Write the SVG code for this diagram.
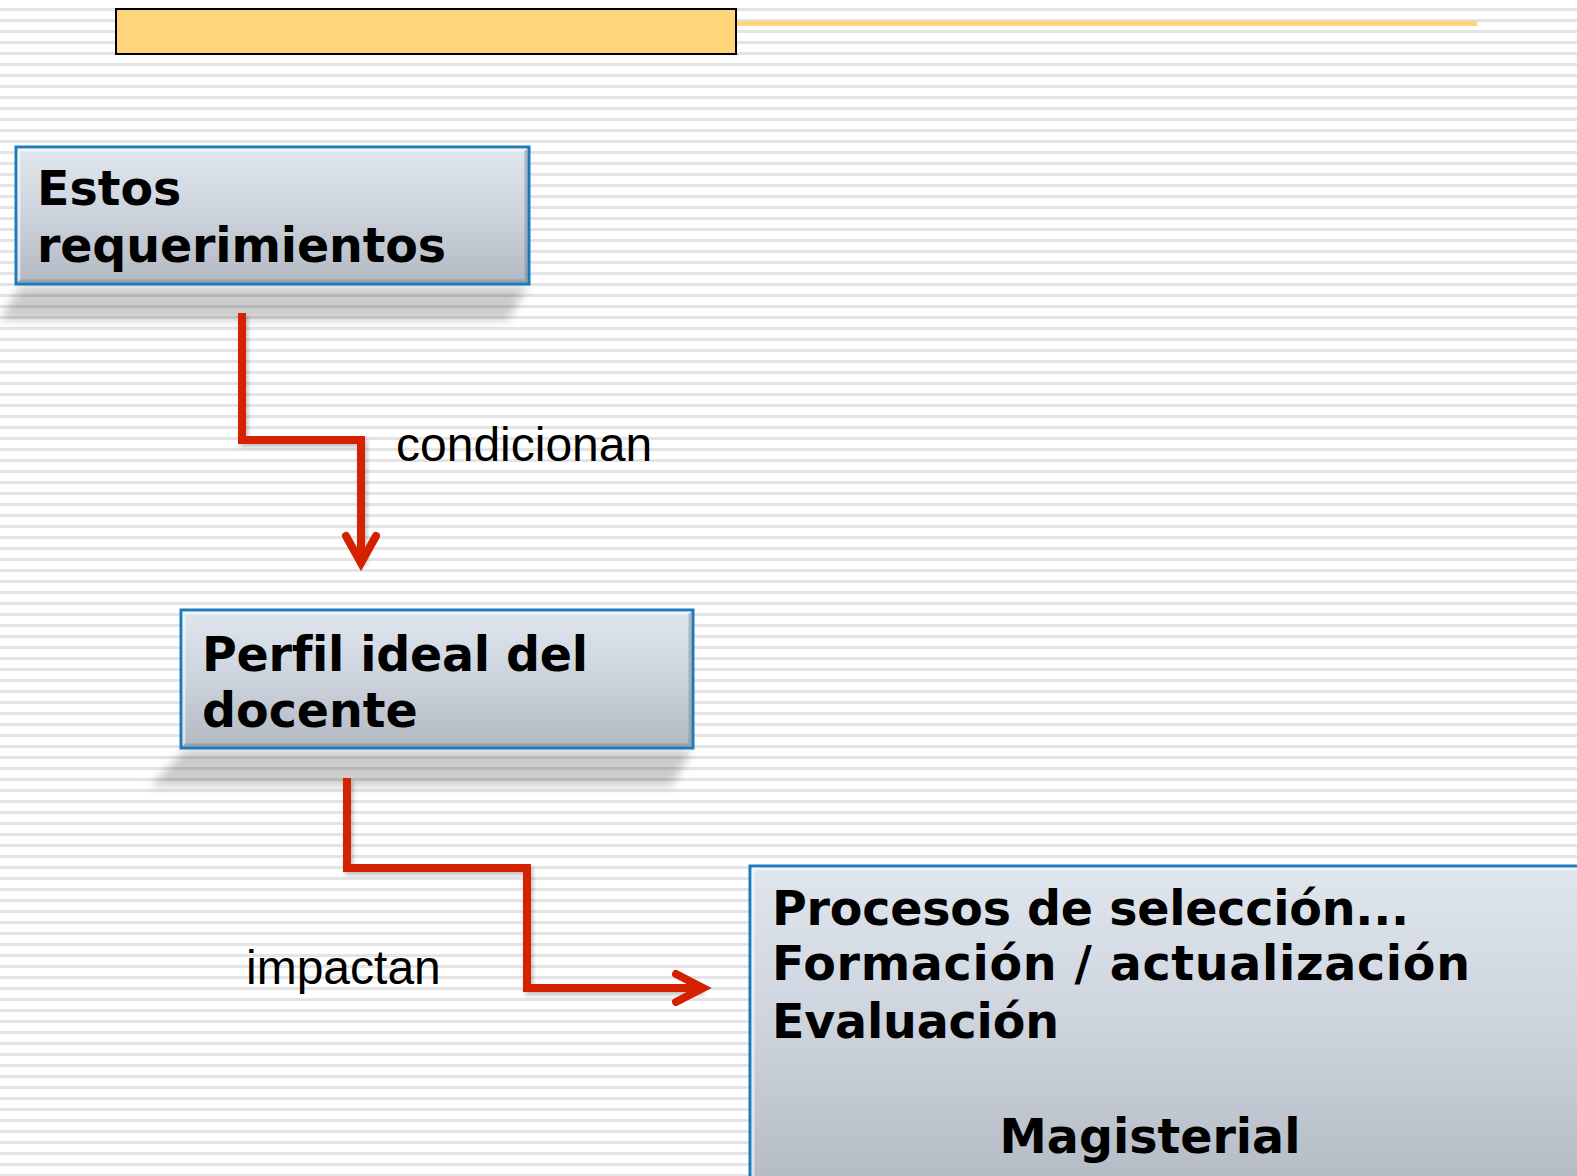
<svg xmlns="http://www.w3.org/2000/svg" width="1577" height="1176" viewBox="0 0 1577 1176">
  <defs>
    <pattern id="stripes" patternUnits="userSpaceOnUse" x="0" y="8" width="20" height="11">
      <rect x="0" y="0" width="20" height="3" fill="#e4e4e4"/>
    </pattern>
    <linearGradient id="boxFill" x1="0" y1="0" x2="0" y2="1">
      <stop offset="0" stop-color="#dfe6ee"/>
      <stop offset="0.5" stop-color="#ccd3dc"/>
      <stop offset="1" stop-color="#b2b9c2"/>
    </linearGradient>
    <filter id="shadowBlur" x="-20%" y="-50%" width="140%" height="200%">
      <feGaussianBlur stdDeviation="5"/>
    </filter>
    <filter id="lineShadow" x="-10%" y="-10%" width="130%" height="130%">
      <feDropShadow dx="2" dy="3" stdDeviation="2" flood-color="#000" flood-opacity="0.25"/>
    </filter>
    <style>
      .box { fill: url(#boxFill); stroke: #1b7bbd; stroke-width: 3; }
      .bevelL { fill: none; stroke: #ffffff; stroke-opacity: 0.55; stroke-width: 3; }
      .bevelD { fill: none; stroke: #6f8296; stroke-opacity: 0.45; stroke-width: 3; }
      .shadow { fill: #000; fill-opacity: 0.2; filter: url(#shadowBlur); }
      .title { font-family: "DejaVu Sans", Verdana, sans-serif; font-weight: bold; font-size: 47.5px; fill: #000; font-variant-ligatures: none; }
      .label { font-family: "Liberation Sans", Arial, sans-serif; font-size: 48px; fill: #000; }
      .conn { fill: none; stroke: #d52000; stroke-width: 8; stroke-linejoin: miter; filter: url(#lineShadow); }
      .head { fill: none; stroke: #d52000; stroke-width: 8; stroke-linecap: round; stroke-linejoin: miter; }
    </style>
  </defs>

  <rect x="0" y="0" width="1577" height="1176" fill="#ffffff"/>
  <rect x="0" y="0" width="1577" height="1176" fill="url(#stripes)"/>

  <g id="header">
    <rect x="736" y="21" width="741" height="5" fill="#ffd57c"/>
    <rect x="116" y="9" width="620" height="45" fill="#ffd57c" stroke="#000" stroke-width="2"/>
  </g>

  <g id="node-requerimientos">
    <polygon class="shadow" points="20,286 528,286 508,320 0,320"/>
    <rect class="box" x="16" y="147" width="513" height="137"/>
    <polyline class="bevelL" points="19,281 19,150 526,150"/>
    <polyline class="bevelD" points="19,281 526,281 526,150"/>
    <text class="title" x="37" y="205">Estos</text>
    <text class="title" x="37" y="262" textLength="409" lengthAdjust="spacing">requerimientos</text>
  </g>

  <g id="node-perfil">
    <polygon class="shadow" points="185,750 692,750 672,786 150,786"/>
    <rect class="box" x="181" y="610" width="512" height="138"/>
    <polyline class="bevelL" points="184,745 184,613 690,613"/>
    <polyline class="bevelD" points="184,745 690,745 690,613"/>
    <text class="title" x="202" y="671" textLength="386" lengthAdjust="spacing">Perfil ideal del</text>
    <text class="title" x="202" y="727">docente</text>
  </g>

  <g id="node-procesos">
    <rect class="box" x="750" y="866" width="840" height="330"/>
    <polyline class="bevelL" points="753,1176 753,869 1577,869"/>
    <text class="title" x="772" y="925" textLength="637" lengthAdjust="spacing">Procesos de selección...</text>
    <text class="title" x="772" y="980" textLength="698" lengthAdjust="spacing">Formación / actualización</text>
    <text class="title" x="772" y="1038" textLength="287" lengthAdjust="spacing">Evaluación</text>
    <text class="title" x="1150" y="1153" text-anchor="middle">Magisterial</text>
  </g>

  <g id="connectors">
    <g id="conn-1">
      <polyline class="conn" points="242,313 242,440 361,440 361,562"/>
      <polyline class="head" points="346,536 361,563 376,536"/>
      <text class="label" x="396" y="461">condicionan</text>
    </g>
    <g id="conn-2">
      <polyline class="conn" points="347,778 347,868 527,868 527,988 702,988"/>
      <polyline class="head" points="676,974 703,988 676,1002"/>
      <text class="label" x="246" y="984">impactan</text>
    </g>
  </g>
</svg>
